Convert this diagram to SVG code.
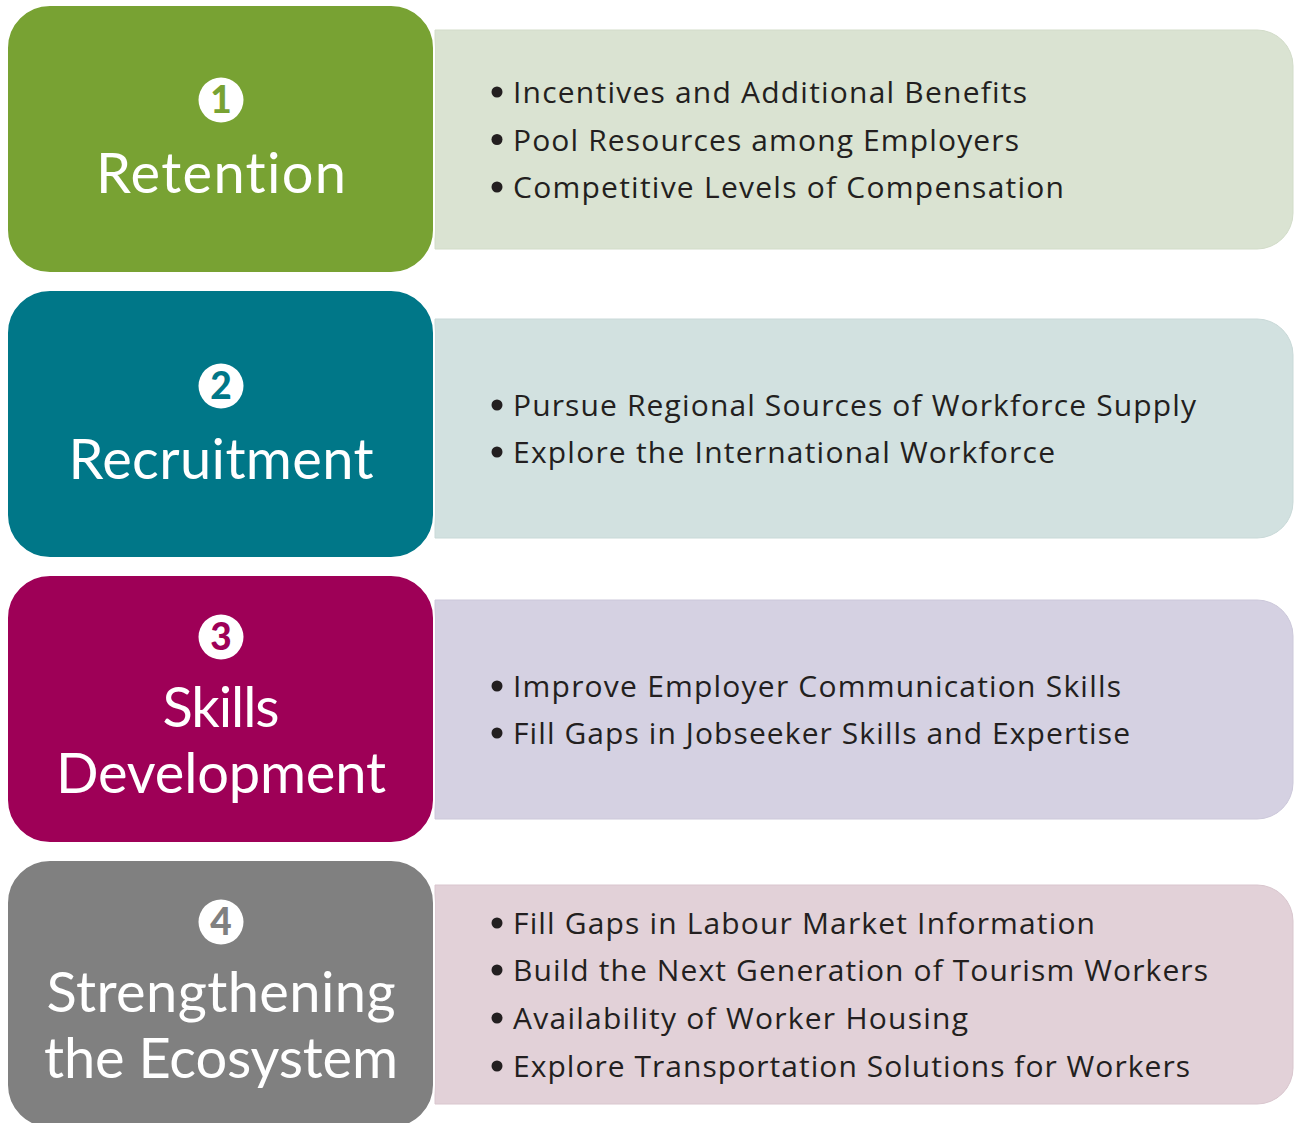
<svg xmlns="http://www.w3.org/2000/svg" width="1297" height="1123" viewBox="0 0 1297 1123">
  <style>
    text { font-variant-ligatures: none; }
    .card { stroke: #ffffff; stroke-width: 2; }
    .panel { stroke-width: 1; }
    .title { font-family: Lato, "Open Sans", "Liberation Sans", sans-serif; font-size: 56px; fill: #ffffff; text-anchor: middle; }
    .num { font-family: Lato, "Open Sans", "Liberation Sans", sans-serif; font-size: 37px; font-weight: 900; text-anchor: middle; }
    .item { font-family: "Open Sans", Lato, "Liberation Sans", sans-serif; font-size: 30px; fill: #231f20; }
    .dot { fill: #231f20; }
  </style>

  <rect width="1297" height="1123" fill="#ffffff"/>

  <!-- 1 Retention -->
  <g id="retention">
    <path class="panel" d="M435,30 H1257 A36,36 0 0 1 1293,66 V213 A36,36 0 0 1 1257,249 H435 Z" fill="#dae3d2" stroke="#d2dcc9"/>
    <rect class="card" x="7" y="5" width="427" height="268" rx="43" fill="#78a233"/>
    <circle cx="221" cy="100" r="22.5" fill="#ffffff"/>
    <text class="num" x="221" y="113" fill="#78a233">1</text>
    <text class="title" x="221" y="193" textLength="250">Retention</text>
    <circle class="dot" cx="497" cy="92" r="5.5"/>
    <text class="item" x="513" y="103" textLength="514">Incentives and Additional Benefits</text>
    <circle class="dot" cx="497" cy="139.5" r="5.5"/>
    <text class="item" x="513" y="150.5" textLength="506">Pool Resources among Employers</text>
    <circle class="dot" cx="497" cy="187" r="5.5"/>
    <text class="item" x="513" y="198" textLength="551">Competitive Levels of Compensation</text>
  </g>

  <!-- 2 Recruitment -->
  <g id="recruitment">
    <path class="panel" d="M435,319 H1257 A36,36 0 0 1 1293,355 V502 A36,36 0 0 1 1257,538 H435 Z" fill="#d2e1e0" stroke="#c9d9d8"/>
    <rect class="card" x="7" y="290" width="427" height="268" rx="43" fill="#007788"/>
    <circle cx="221" cy="386" r="22.5" fill="#ffffff"/>
    <text class="num" x="221" y="399" fill="#007788">2</text>
    <text class="title" x="221" y="479" textLength="305">Recruitment</text>
    <circle class="dot" cx="497" cy="405" r="5.5"/>
    <text class="item" x="513" y="416" textLength="683">Pursue Regional Sources of Workforce Supply</text>
    <circle class="dot" cx="497" cy="452" r="5.5"/>
    <text class="item" x="513" y="463" textLength="542">Explore the International Workforce</text>
  </g>

  <!-- 3 Skills Development -->
  <g id="skills-development">
    <path class="panel" d="M435,600 H1257 A36,36 0 0 1 1293,636 V783 A36,36 0 0 1 1257,819 H435 Z" fill="#d5d1e2" stroke="#ccc8da"/>
    <rect class="card" x="7" y="575" width="427" height="268" rx="43" fill="#9e0057"/>
    <circle cx="221" cy="637" r="22.5" fill="#ffffff"/>
    <text class="num" x="221" y="650" fill="#9e0057">3</text>
    <text class="title" x="221" y="727" textLength="117">Skills</text>
    <text class="title" x="221" y="793" textLength="330">Development</text>
    <circle class="dot" cx="497" cy="686" r="5.5"/>
    <text class="item" x="513" y="697" textLength="608">Improve Employer Communication Skills</text>
    <circle class="dot" cx="497" cy="733" r="5.5"/>
    <text class="item" x="513" y="744" textLength="617">Fill Gaps in Jobseeker Skills and Expertise</text>
  </g>

  <!-- 4 Strengthening the Ecosystem -->
  <g id="strengthening-ecosystem">
    <path class="panel" d="M435,885 H1257 A36,36 0 0 1 1293,921 V1068 A36,36 0 0 1 1257,1104 H435 Z" fill="#e2d1d8" stroke="#d9c6ce"/>
    <rect class="card" x="7" y="860" width="427" height="268" rx="43" fill="#808080"/>
    <circle cx="221" cy="922" r="22.5" fill="#ffffff"/>
    <text class="num" x="221" y="935" fill="#808080">4</text>
    <text class="title" x="221" y="1012" textLength="349">Strengthening</text>
    <text class="title" x="221" y="1078" textLength="354">the Ecosystem</text>
    <circle class="dot" cx="497" cy="923" r="5.5"/>
    <text class="item" x="513" y="934" textLength="582">Fill Gaps in Labour Market Information</text>
    <circle class="dot" cx="497" cy="970" r="5.5"/>
    <text class="item" x="513" y="981" textLength="695">Build the Next Generation of Tourism Workers</text>
    <circle class="dot" cx="497" cy="1018" r="5.5"/>
    <text class="item" x="513" y="1029" textLength="455">Availability of Worker Housing</text>
    <circle class="dot" cx="497" cy="1066" r="5.5"/>
    <text class="item" x="513" y="1077" textLength="677">Explore Transportation Solutions for Workers</text>
  </g>

  <!-- no connectors in this figure -->
  <g id="connectors"/>
</svg>
